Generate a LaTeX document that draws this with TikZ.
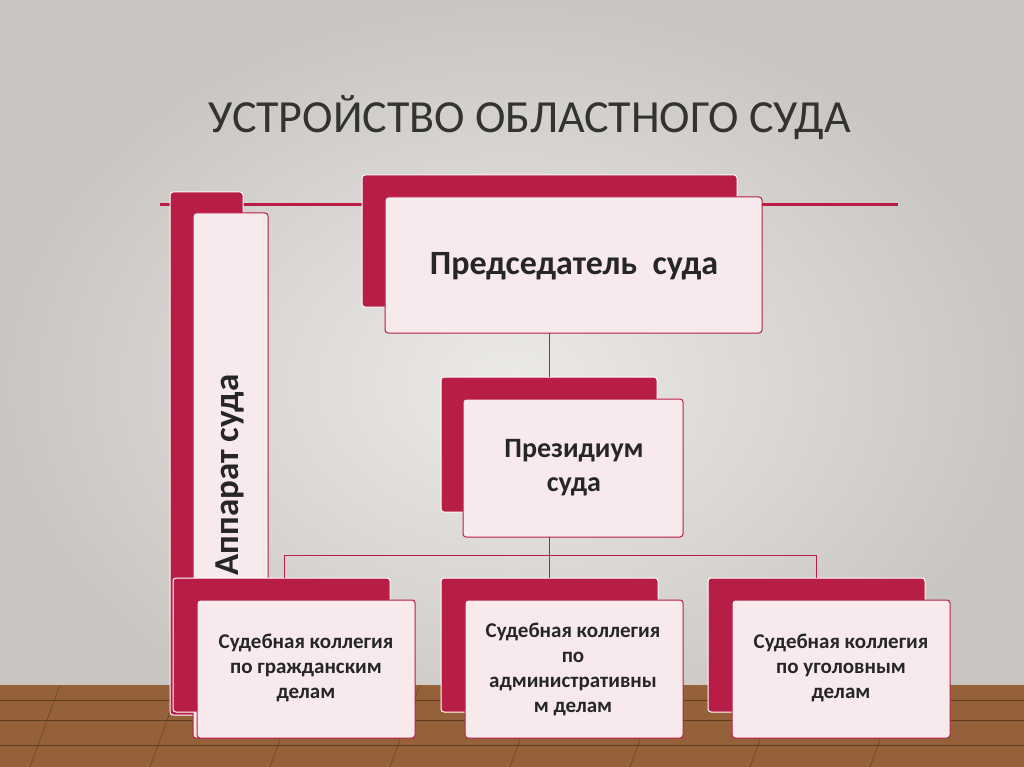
\documentclass[tikz,border=0pt]{standalone}
\usepackage{fontspec}
\setmainfont{Carlito}
\definecolor{crim}{HTML}{B81E45}
\definecolor{pinkf}{HTML}{F7E9EC}
\definecolor{wall}{HTML}{ECEAE7}
\definecolor{walle}{HTML}{C9C6C2}
\definecolor{wood}{HTML}{94613A}
\definecolor{woodd}{HTML}{5E3A1E}
\tikzset{back/.style={draw=white,fill=crim,rounded corners=3pt,line width=1pt},
front/.style={draw=crim,fill=pinkf,rounded corners=3pt,line width=1pt},
lbl/.style={font=\bfseries\fontsize{21}{25}\selectfont,align=center,text=black!85},
conn/.style={draw=crim,line width=1pt}}
\begin{document}
\begin{tikzpicture}[x=1pt,y=-1pt]
\useasboundingbox (0,0) rectangle (1024,767);
\shade[inner color=wall,outer color=walle] (0,0) rectangle (1024,767);
\fill[wood] (0,685) rectangle (1024,767);
\foreach \y in {700,720,745}{\draw[woodd,line width=1pt] (0,\y) -- (1024,\y);}
\foreach \x in {60,180,300,420,540,660,780,900}{\draw[woodd] (\x,685) -- (\x-30,767);}
\node[font=\fontsize{46}{52}\selectfont,text=black!80] (title) at (530,118) {УСТРОЙСТВО ОБЛАСТНОГО СУДА};
\draw[crim,line width=3pt] (160,205) -- (898,205);
% Apparat
\draw[back] (170,192) rectangle (243,715);
\draw[front] (193,213) rectangle (268,738);
\node[rotate=90,font=\bfseries\fontsize{35}{40}\selectfont,text=black!85] (app) at (230,475) {Аппарат суда};
% Chairman
\draw[back] (362,175) rectangle (737,307);
\draw[front] (385,197) rectangle (762,333);
\coordinate (chb) at (549,333);
\node[lbl,font=\bfseries\fontsize{34}{40}\selectfont] (ch) at (574,266) {Председатель\ \ суда};
% Presidium
\draw[back] (441,377) rectangle (657,512);
\draw[front] (463,399) rectangle (683,537);
\coordinate (prt) at (549,377);
\coordinate (prb) at (549,537);
\node[lbl,font=\bfseries\fontsize{28}{34}\selectfont] (pr) at (574,468) {Президиум\\суда};
\draw[conn] (chb) -- (prt);
% bottom boxes
\foreach \a/\n in {173/l,441/m,708/r}{
\draw[back] (\a,578) rectangle (\a+217,712);
\draw[front] (\a+24,600) rectangle (\a+242,738);}
\node[lbl] (bl) at (306,668) {Судебная коллегия\\по гражданским\\делам};
\node[lbl] (bm) at (573,669) {Судебная коллегия\\по\\административны\\м делам};
\node[lbl] (br) at (841,668) {Судебная коллегия\\по уголовным\\делам};
\coordinate (j) at (549,555);
\draw[conn] (prb) -- (j);
\draw[conn] (284,578) -- (284,555) -- (816,555) -- (816,578);
\draw[conn] (j) -- (549,578);
\end{tikzpicture}
\end{document}
